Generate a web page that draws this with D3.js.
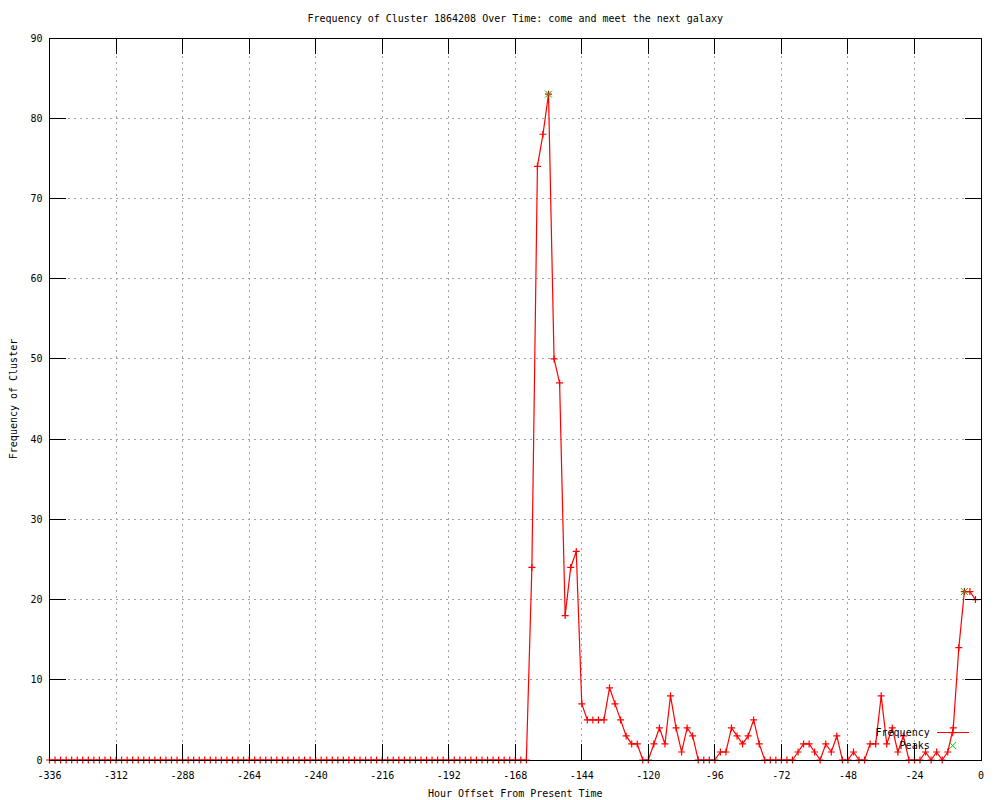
<!DOCTYPE html>
<html>
<head>
<meta charset="utf-8">
<script src="https://cdn.jsdelivr.net/npm/d3@7"></script>
<style>
  body { margin: 0; background: #fff; }
  svg text { font-family: "DejaVu Sans Mono", "Liberation Mono", monospace; font-size: 10px; fill: #000; }
</style>
</head>
<body>
<div id="chart"></div>
<script>
// Hour offsets, every 2 hours from -336 to -2
const hours = d3.range(-336, 0, 2);

// Frequency per 2-hour slot
const frequency = [
    0, 0, 0, 0, 0, 0, 0, 0, 0, 0, 0, 0, 0, 0, 0, 0, 0, 0, 0, 0,
    0, 0, 0, 0, 0, 0, 0, 0, 0, 0, 0, 0, 0, 0, 0, 0, 0, 0, 0, 0,
    0, 0, 0, 0, 0, 0, 0, 0, 0, 0, 0, 0, 0, 0, 0, 0, 0, 0, 0, 0,
    0, 0, 0, 0, 0, 0, 0, 0, 0, 0, 0, 0, 0, 0, 0, 0, 0, 0, 0, 0,
    0, 0, 0, 0, 0, 0, 0,
    24, 74, 78, 83, 50, 47, 18, 24, 26, 7,
    5, 5, 5, 5, 9, 7, 5, 3, 2, 2,
    0, 0, 2, 4, 2, 8, 4, 1, 4, 3,
    0, 0, 0, 0, 1, 1, 4, 3, 2, 3,
    5, 2, 0, 0, 0, 0, 0, 0, 1, 2,
    2, 1, 0, 2, 1, 3, 0, 0, 1, 0,
    0, 2, 2, 8, 2, 4, 1, 3, 0, 0,
    0, 1, 0, 1, 0, 1, 4, 14, 21, 21,
    20
];

const peakHours = [-156, -6];
const peakValues = [83, 21];

const xTicks = [-336, -312, -288, -264, -240, -216, -192, -168, -144, -120, -96, -72, -48, -24, 0];
const yTicks = [0, 10, 20, 30, 40, 50, 60, 70, 80, 90];

const TITLE = "Frequency of Cluster 1864208 Over Time: come and meet the next galaxy";
const X_LABEL = "Hour Offset From Present Time";
const Y_LABEL = "Frequency of Cluster";

const W = 1000, H = 800;
const margin = { top: 38, right: 19, bottom: 40, left: 49.5 };
const width = W - margin.left - margin.right;
const height = H - margin.top - margin.bottom;

const data = hours.map((h, i) => ({ h, v: frequency[i] }));
const peaks = peakHours.map((h, i) => ({ h, v: peakValues[i] }));

const svg = d3.select("#chart").append("svg")
    .attr("width", W)
    .attr("height", H);

const g = svg.append("g")
    .attr("transform", `translate(${margin.left},${margin.top})`);

const x = d3.scaleLinear().domain([-336, 0]).range([0, width]);
const y = d3.scaleLinear().domain([0, 90]).range([height, 0]);

// grid
g.append("g")
    .selectAll("line")
    .data(xTicks)
    .join("line")
    .attr("x1", d => x(d)).attr("x2", d => x(d))
    .attr("y1", 0).attr("y2", height)
    .attr("stroke", "#a0a0a0")
    .attr("stroke-dasharray", "2,4")
    .attr("shape-rendering", "crispEdges");

g.append("g")
    .selectAll("line")
    .data(yTicks)
    .join("line")
    .attr("x1", 0).attr("x2", width)
    .attr("y1", d => y(d)).attr("y2", d => y(d))
    .attr("stroke", "#a0a0a0")
    .attr("stroke-dasharray", "2,4")
    .attr("shape-rendering", "crispEdges");

// frequency line
const line = d3.line().x(d => x(d.h)).y(d => y(d.v));

g.append("path")
    .datum(data)
    .attr("fill", "none")
    .attr("stroke", "#ff0000")
    .attr("stroke-width", 1.2)
    .attr("d", line);

function plusPath(s) {
    return `M${-s},0H${s}M0,${-s}V${s}`;
}
function crossPath(s) {
    return `M${-s},${-s}L${s},${s}M${-s},${s}L${s},${-s}`;
}

g.append("g")
    .selectAll("path")
    .data(data)
    .join("path")
    .attr("transform", d => `translate(${x(d.h)},${y(d.v)})`)
    .attr("d", plusPath(3.5))
    .attr("stroke", "#ff0000")
    .attr("stroke-width", 1.2)
    .attr("fill", "none");

// peaks
g.append("g")
    .selectAll("path")
    .data(peaks)
    .join("path")
    .attr("transform", d => `translate(${x(d.h)},${y(d.v)})`)
    .attr("d", crossPath(3.5))
    .attr("stroke", "#00c000")
    .attr("fill", "none");

// legend
const legend = g.append("g").attr("transform", `translate(${x(-18.5)},0)`);
legend.append("text")
    .attr("x", 0).attr("y", y(3.4)).attr("dy", "0.35em")
    .attr("text-anchor", "end")
    .text("Frequency");
legend.append("line")
    .attr("x1", 7).attr("x2", 39)
    .attr("y1", y(3.4)).attr("y2", y(3.4))
    .attr("stroke", "#ff0000")
    .attr("shape-rendering", "crispEdges");
legend.append("path")
    .attr("transform", `translate(23,${y(3.4)})`)
    .attr("d", plusPath(3.5))
    .attr("stroke", "#ff0000")
    .attr("stroke-width", 1.2);
legend.append("text")
    .attr("x", 0).attr("y", y(1.8)).attr("dy", "0.35em")
    .attr("text-anchor", "end")
    .text("Peaks");
legend.append("path")
    .attr("transform", `translate(23,${y(1.8)})`)
    .attr("d", crossPath(3.5))
    .attr("stroke", "#00c000");

// axes (ticks inward, mirrored)
const tickLen = 16;
const axes = g.append("g").attr("stroke", "#000").attr("shape-rendering", "crispEdges");

axes.selectAll(".xt").data(xTicks).join("line")
    .attr("x1", d => x(d)).attr("x2", d => x(d))
    .attr("y1", height).attr("y2", height - tickLen);
axes.selectAll(".xt2").data(xTicks).join("line")
    .attr("x1", d => x(d)).attr("x2", d => x(d))
    .attr("y1", 0).attr("y2", tickLen);
axes.selectAll(".yt").data(yTicks).join("line")
    .attr("x1", 0).attr("x2", tickLen)
    .attr("y1", d => y(d)).attr("y2", d => y(d));
axes.selectAll(".yt2").data(yTicks).join("line")
    .attr("x1", width).attr("x2", width - tickLen)
    .attr("y1", d => y(d)).attr("y2", d => y(d));

g.append("rect")
    .attr("width", width).attr("height", height)
    .attr("fill", "none")
    .attr("stroke", "#000")
    .attr("shape-rendering", "crispEdges");

// tick labels
g.append("g")
    .selectAll("text")
    .data(xTicks)
    .join("text")
    .attr("x", d => x(d))
    .attr("y", height + 15)
    .attr("dy", "0.35em")
    .attr("text-anchor", "middle")
    .text(d => d);

g.append("g")
    .selectAll("text")
    .data(yTicks)
    .join("text")
    .attr("x", -7)
    .attr("y", d => y(d))
    .attr("dy", "0.35em")
    .attr("text-anchor", "end")
    .text(d => d);

// titles
svg.append("text")
    .attr("x", margin.left + width / 2)
    .attr("y", 18)
    .attr("dy", "0.35em")
    .attr("text-anchor", "middle")
    .text(TITLE);

svg.append("text")
    .attr("x", margin.left + width / 2)
    .attr("y", 793)
    .attr("dy", "0.35em")
    .attr("text-anchor", "middle")
    .text(X_LABEL);

svg.append("text")
    .attr("transform", `translate(13,${margin.top + height / 2}) rotate(-90)`)
    .attr("dy", "0.35em")
    .attr("text-anchor", "middle")
    .text(Y_LABEL);
</script>
</body>
</html>
